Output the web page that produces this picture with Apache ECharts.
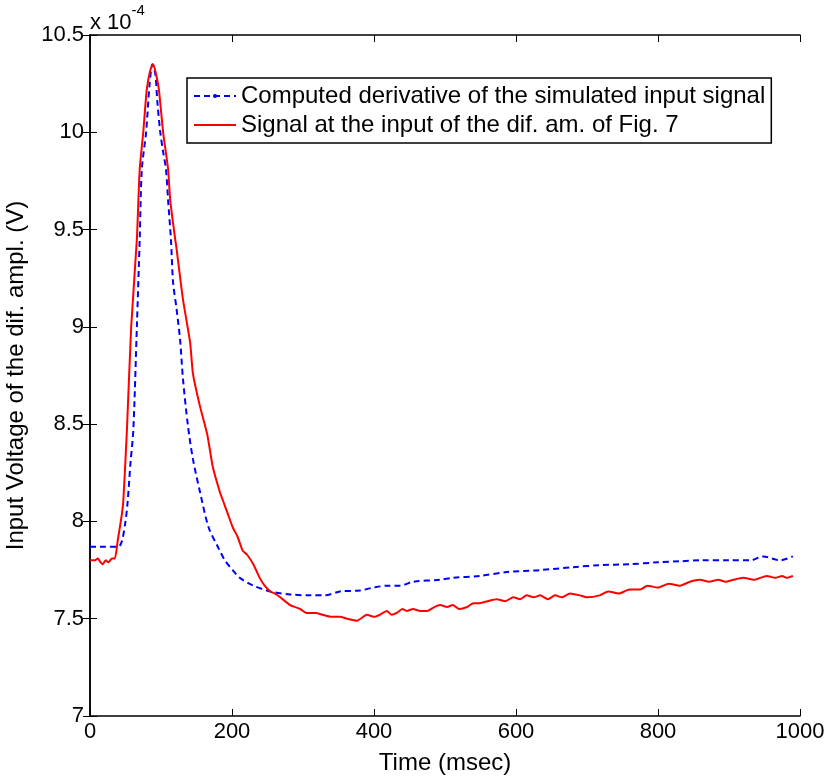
<!DOCTYPE html>
<html>
<head>
<meta charset="utf-8">
<script src="https://cdn.jsdelivr.net/npm/echarts@6/dist/echarts.min.js"></script>
<style>
  html, body { margin: 0; padding: 0; background: #fff; }
  #chart { width: 830px; height: 781px; }
</style>
</head>
<body>
<div id="chart"></div>
<script>
// values are in units of 1e-4 V
var timeBlue = [0, 20, 40, 45, 50, 53, 57, 61, 66, 70, 73, 79, 84, 88, 92, 95, 99, 103, 107, 110, 114, 117, 122, 127, 131, 138, 145, 155, 167, 180, 190, 201, 211, 230, 254, 282, 310, 331, 352, 380, 399, 420, 437, 455, 493, 511, 549, 587, 634, 680, 718, 760, 800, 831, 860, 900, 930, 948, 972, 990];
var voltBlue = [7.87, 7.87, 7.87, 7.9, 8.0, 8.1, 8.3, 8.47, 9.0, 9.45, 9.81, 10.0, 10.25, 10.35, 10.3, 10.15, 10.0, 9.9, 9.81, 9.65, 9.45, 9.23, 9.09, 8.93, 8.73, 8.49, 8.32, 8.15, 7.97, 7.87, 7.8, 7.75, 7.71, 7.67, 7.64, 7.625, 7.62, 7.62, 7.64, 7.645, 7.66, 7.67, 7.67, 7.69, 7.7, 7.71, 7.72, 7.74, 7.75, 7.765, 7.775, 7.78, 7.79, 7.795, 7.8, 7.8, 7.8, 7.82, 7.8, 7.82];

var timeRed = [0, 3, 7, 11, 15, 18, 22, 26, 31, 35, 39, 45, 47, 52, 58, 66, 70, 75, 80, 85, 89, 93, 97, 103, 110, 113, 120, 122, 131, 141, 145, 155, 165, 173, 183, 187, 194, 201, 208, 215, 221, 230, 239, 246, 254, 260, 268, 282, 296, 305, 318, 328, 340, 352, 362, 376, 390, 400, 408, 418, 425, 432, 440, 446, 455, 465, 475, 485, 493, 503, 511, 520, 531, 540, 549, 560, 573, 585, 596, 606, 615, 625, 634, 645, 655, 665, 676, 690, 700, 718, 730, 745, 760, 775, 785, 800, 815, 831, 845, 859, 872, 885, 895, 906, 920, 935, 953, 965, 975, 981, 990];
var voltRed = [7.8, 7.8, 7.8, 7.81, 7.79, 7.78, 7.8, 7.79, 7.81, 7.81, 7.9, 8.04, 8.11, 8.47, 9.0, 9.45, 9.81, 10.0, 10.22, 10.32, 10.35, 10.3, 10.22, 10.0, 9.81, 9.65, 9.45, 9.4, 9.14, 8.92, 8.76, 8.59, 8.45, 8.28, 8.15, 8.11, 8.04, 7.97, 7.92, 7.85, 7.83, 7.78, 7.71, 7.67, 7.64, 7.63, 7.61, 7.57, 7.55, 7.53, 7.53, 7.52, 7.51, 7.51, 7.5, 7.49, 7.52, 7.51, 7.52, 7.54, 7.52, 7.53, 7.55, 7.54, 7.55, 7.54, 7.54, 7.56, 7.57, 7.56, 7.57, 7.55, 7.56, 7.58, 7.58, 7.59, 7.6, 7.59, 7.61, 7.6, 7.62, 7.61, 7.62, 7.6, 7.62, 7.61, 7.63, 7.62, 7.61, 7.62, 7.64, 7.63, 7.65, 7.65, 7.67, 7.66, 7.68, 7.67, 7.69, 7.7, 7.69, 7.7, 7.69, 7.7, 7.71, 7.7, 7.72, 7.71, 7.72, 7.71, 7.72];

var xTicks = [0, 1000, 200];     // min, max, step
var yTicks = [7, 10.5, 0.5];

var blueName = 'Computed derivative of the simulated input signal';
var redName = 'Signal at the input of the dif. am. of Fig. 7';

function pairs(xs, ys) {
    var out = [];
    for (var i = 0; i < xs.length; i++) out.push([xs[i], ys[i]]);
    return out;
}

var FONT = 'Liberation Sans, Arial, sans-serif';
var chart = echarts.init(document.getElementById('chart'));

var tickStyle = {show: true, inside: true, length: 7, lineStyle: {color: '#000', width: 1}};
var lineStyle = {show: true, lineStyle: {color: '#000', width: 1.5}};
var plain = function (v) { return String(v); };

var option = {
    backgroundColor: '#fff',
    animation: false,
    grid: {left: 90, right: 30, top: 35, bottom: 65, containLabel: false, outerBoundsMode: 'none'},
    graphic: [{
        type: 'text',
        left: 90,
        top: 3,
        style: {
            text: '{a|x 10}{b|-4}',
            rich: {
                a: {fontFamily: FONT, fontSize: 22, fill: '#000', padding: [9, 0, 0, 0]},
                b: {fontFamily: FONT, fontSize: 15, fill: '#000', verticalAlign: 'top'}
            }
        }
    }],
    legend: {
        orient: 'vertical',
        left: 187,
        top: 78,
        itemWidth: 42,
        itemHeight: 5,
        itemGap: 5,
        padding: [6, 6, 6, 6],
        borderColor: '#000',
        borderWidth: 1.5,
        borderRadius: 0,
        backgroundColor: '#fff',
        textStyle: {fontFamily: FONT, fontSize: 24, color: '#000'},
        data: [
            {name: blueName},
            {name: redName, itemStyle: {opacity: 0}}
        ]
    },
    xAxis: [{
        type: 'value',
        min: xTicks[0], max: xTicks[1], interval: xTicks[2],
        name: 'Time (msec)',
        nameLocation: 'middle',
        nameGap: 35,
        nameTextStyle: {fontFamily: FONT, fontSize: 24, color: '#000'},
        axisLine: lineStyle,
        axisTick: tickStyle,
        splitLine: {show: false},
        axisLabel: {fontFamily: FONT, fontSize: 22, color: '#000', margin: 5, formatter: plain}
    }, {
        type: 'value',
        position: 'top',
        min: xTicks[0], max: xTicks[1], interval: xTicks[2],
        axisLine: lineStyle,
        axisTick: tickStyle,
        splitLine: {show: false},
        axisLabel: {show: false}
    }],
    yAxis: [{
        type: 'value',
        min: yTicks[0], max: yTicks[1], interval: yTicks[2],
        name: 'Input Voltage of the dif. ampl. (V)',
        nameLocation: 'middle',
        nameGap: 62,
        nameTextStyle: {fontFamily: FONT, fontSize: 24, color: '#000'},
        axisLine: lineStyle,
        axisTick: tickStyle,
        splitLine: {show: false},
        axisLabel: {fontFamily: FONT, fontSize: 22, color: '#000', margin: 6, formatter: plain}
    }, {
        type: 'value',
        position: 'right',
        min: yTicks[0], max: yTicks[1], interval: yTicks[2],
        axisLine: lineStyle,
        axisTick: tickStyle,
        splitLine: {show: false},
        axisLabel: {show: false}
    }],
    series: [{
        name: blueName,
        type: 'line',
        data: pairs(timeBlue, voltBlue),
        symbol: 'circle',
        symbolSize: 4,
        showSymbol: false,
        smooth: 0.3,
        itemStyle: {color: '#0000ff'},
        lineStyle: {color: '#0000ff', width: 2, type: [6, 4]},
        z: 2
    }, {
        name: redName,
        type: 'line',
        data: pairs(timeRed, voltRed),
        symbol: 'none',
        smooth: 0.2,
        itemStyle: {color: '#ff0000'},
        lineStyle: {color: '#ff0000', width: 2},
        z: 3
    }]
};
chart.setOption(option);
</script>
</body>
</html>
